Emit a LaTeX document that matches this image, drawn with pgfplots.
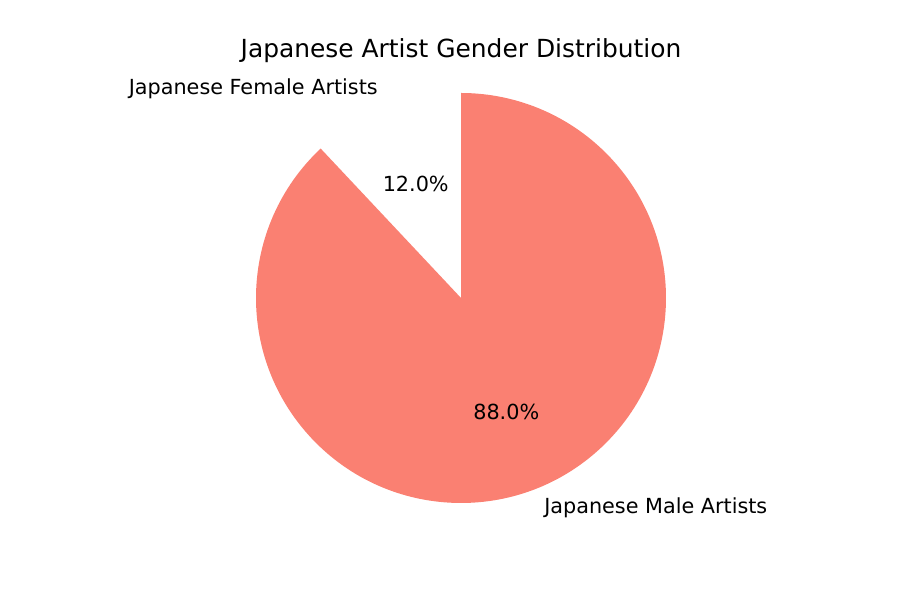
\documentclass[border=0pt]{standalone}
\usepackage{pgfplots}
\pgfplotsset{compat=1.18}
\usepackage{fontspec}
\setmainfont{DejaVu Sans}
\definecolor{salmon}{HTML}{FA8072}
\begin{document}
\begin{tikzpicture}
% shares in percent, wedges run counterclockwise from 90 degrees
\def\female{12.0}
\def\male{88.0}
\pgfmathsetmacro{\aA}{90}
\pgfmathsetmacro{\aB}{90+3.6*\female}
\pgfmathsetmacro{\aC}{90+3.6*(\female+\male)}
\pgfmathsetmacro{\mA}{(\aA+\aB)/2}
\pgfmathsetmacro{\mB}{(\aB+\aC)/2}
\begin{axis}[
    width=9in, height=6in, scale only axis,
    hide axis, clip=false,
    xmin=0, xmax=900, ymin=0, ymax=600,
]
\path (axis cs:0,0) rectangle (axis cs:900,600);
% pie, radius 205 units = 2.05in
\fill[white] (axis cs:461,302) -- ++(\aA:2.05in) arc[start angle=\aA, end angle=\aB, radius=2.05in] -- cycle;
\fill[salmon] (axis cs:461,302) -- ++(\aB:2.05in) arc[start angle=\aB, end angle=\aC, radius=2.05in] -- cycle;
% labels at 1.1 r, percentages at 0.6 r
\path (axis cs:461,302) ++(\mA:2.255in) node[anchor=east, inner xsep=0pt, font=\fontsize{15}{18}\selectfont] {Japanese Female Artists};
\path (axis cs:461,302) ++(\mB:2.255in) node[anchor=west, inner xsep=0pt, font=\fontsize{15}{18}\selectfont] {Japanese Male Artists};
\path (axis cs:461,302) ++(\mA:1.23in) node[font=\fontsize{15}{18}\selectfont] {\female\%};
\path (axis cs:461,302) ++(\mB:1.23in) node[font=\fontsize{15}{18}\selectfont] {\male\%};
\node[font=\fontsize{18}{22}\selectfont] at (axis cs:461,549) {Japanese Artist Gender Distribution};
\end{axis}
\end{tikzpicture}
\end{document}
